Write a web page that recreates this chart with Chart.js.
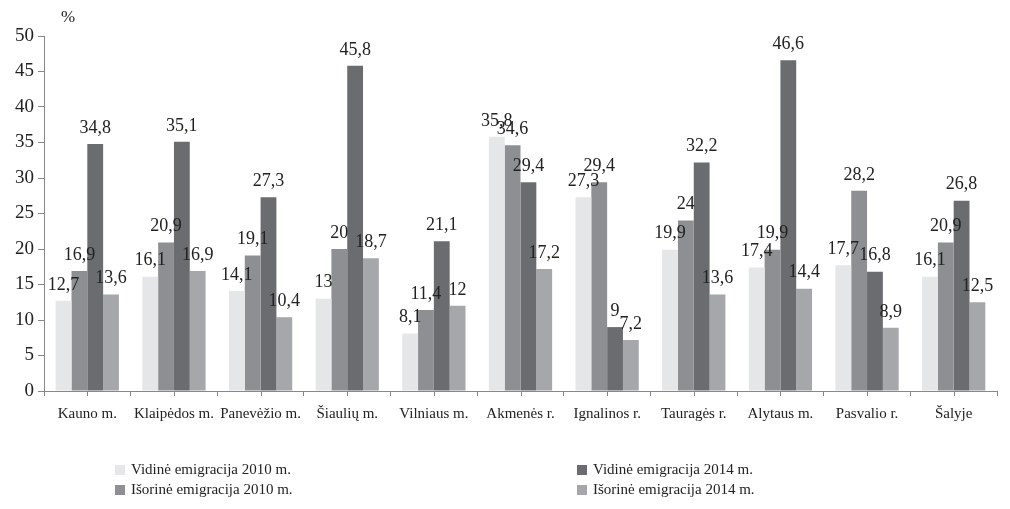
<!DOCTYPE html>
<html><head><meta charset="utf-8">
<script src="https://cdn.jsdelivr.net/npm/chart.js@4/dist/chart.umd.min.js"></script>
<style>html,body{margin:0;padding:0;background:#fff}#wrap{width:1010px;height:509px}</style>
</head><body><div id="wrap"><canvas id="c" width="1010" height="509"></canvas></div>
<script>
const categories = ["Kauno m.","Klaipėdos m.","Panevėžio m.","Šiaulių m.","Vilniaus m.","Akmenės r.","Ignalinos r.","Tauragės r.","Alytaus m.","Pasvalio r.","Šalyje"];
const seriesNames = ["Vidinė emigracija 2010 m.","Išorinė emigracija 2010 m.","Vidinė emigracija 2014 m.","Išorinė emigracija 2014 m."];
const vidine2010 = [12.7,16.1,14.1,13,8.1,35.8,27.3,19.9,17.4,17.7,16.1];
const isorine2010 = [16.9,20.9,19.1,20,11.4,34.6,29.4,24,19.9,28.2,20.9];
const vidine2014 = [34.8,35.1,27.3,45.8,21.1,29.4,9,32.2,46.6,16.8,26.8];
const isorine2014 = [13.6,16.9,10.4,18.7,12,17.2,7.2,13.6,14.4,8.9,12.5];
const yTicks = [0,5,10,15,20,25,30,35,40,45,50];
const colors = ["#e5e6e7","#8e8f92","#6b6c6f","#a6a7aa"];
const serif = "'Liberation Serif','Times New Roman',serif";

const labelPlugin = {
  id:'vals',
  afterDatasetsDraw(chart){
    const ctx = chart.ctx;
    ctx.save();
    ctx.font = "18px " + serif;
    ctx.fillStyle = "#222";
    ctx.textAlign = "center";
    ctx.textBaseline = "bottom";
    chart.data.datasets.forEach((ds,i)=>{
      chart.getDatasetMeta(i).data.forEach((bar,j)=>{
        ctx.fillText(String(ds.data[j]).replace('.',','), bar.x, bar.y-7);
      });
    });
    ctx.restore();
  },
  afterDraw(chart){
    const ctx = chart.ctx;
    const xs = chart.scales.x;
    // extra tick marks at category centres
    ctx.save();
    ctx.strokeStyle = "#888";
    ctx.lineWidth = 1;
    ctx.beginPath();
    categories.forEach((c,i)=>{
      const px = Math.round(xs.getPixelForValue(i)) + 0.5;
      ctx.moveTo(px, xs.top);
      ctx.lineTo(px, xs.top + 5);
    });
    ctx.stroke();
    ctx.restore();

    ctx.save();
    ctx.font = "15px " + serif;
    ctx.fillStyle = "#222";
    ctx.textBaseline = "middle";
    ctx.textAlign = "left";
    const pos = [[115,470],[115,490],[577,470],[577,490]];
    chart.data.datasets.forEach((ds,i)=>{
      const [x,y] = pos[i];
      ctx.fillStyle = ds.backgroundColor;
      ctx.fillRect(x, y-5, 10, 10);
      ctx.fillStyle = "#222";
      ctx.fillText(ds.label, x+16, y);
    });
    ctx.font = "17px " + serif;
    ctx.fillText("%", 61, 18);
    ctx.restore();
  }
};

new Chart(document.getElementById('c'), {
  type:'bar',
  data:{
    labels: categories,
    datasets:[
      {label:seriesNames[0], data:vidine2010, backgroundColor:colors[0]},
      {label:seriesNames[1], data:isorine2010, backgroundColor:colors[1]},
      {label:seriesNames[2], data:vidine2014, backgroundColor:colors[2]},
      {label:seriesNames[3], data:isorine2014, backgroundColor:colors[3]}
    ]
  },
  options:{
    responsive:false,
    animation:false,
    layout:{padding:{top:36,right:13,left:0,bottom:0}},
    plugins:{legend:{display:false},tooltip:{enabled:false}},
    datasets:{bar:{categoryPercentage:0.73,barPercentage:1.0}},
    scales:{
      x:{
        grid:{drawOnChartArea:false,drawTicks:true,tickLength:5,offset:true,color:"#888"},
        border:{color:"#888",width:1},
        ticks:{font:{family:serif,size:15},color:"#222",maxRotation:0,minRotation:0,autoSkip:false,padding:9},
        afterFit(s){s.height=118;}
      },
      y:{
        min:0,max:50,
        afterBuildTicks(s){s.ticks = yTicks.map(v=>({value:v}));},
        grid:{drawOnChartArea:false,drawTicks:true,tickLength:6,color:"#888"},
        border:{color:"#888",width:1},
        ticks:{font:{family:serif,size:19},color:"#222",padding:4},
        afterFit(s){s.width=44;}
      }
    }
  },
  plugins:[labelPlugin]
});
</script></body></html>
